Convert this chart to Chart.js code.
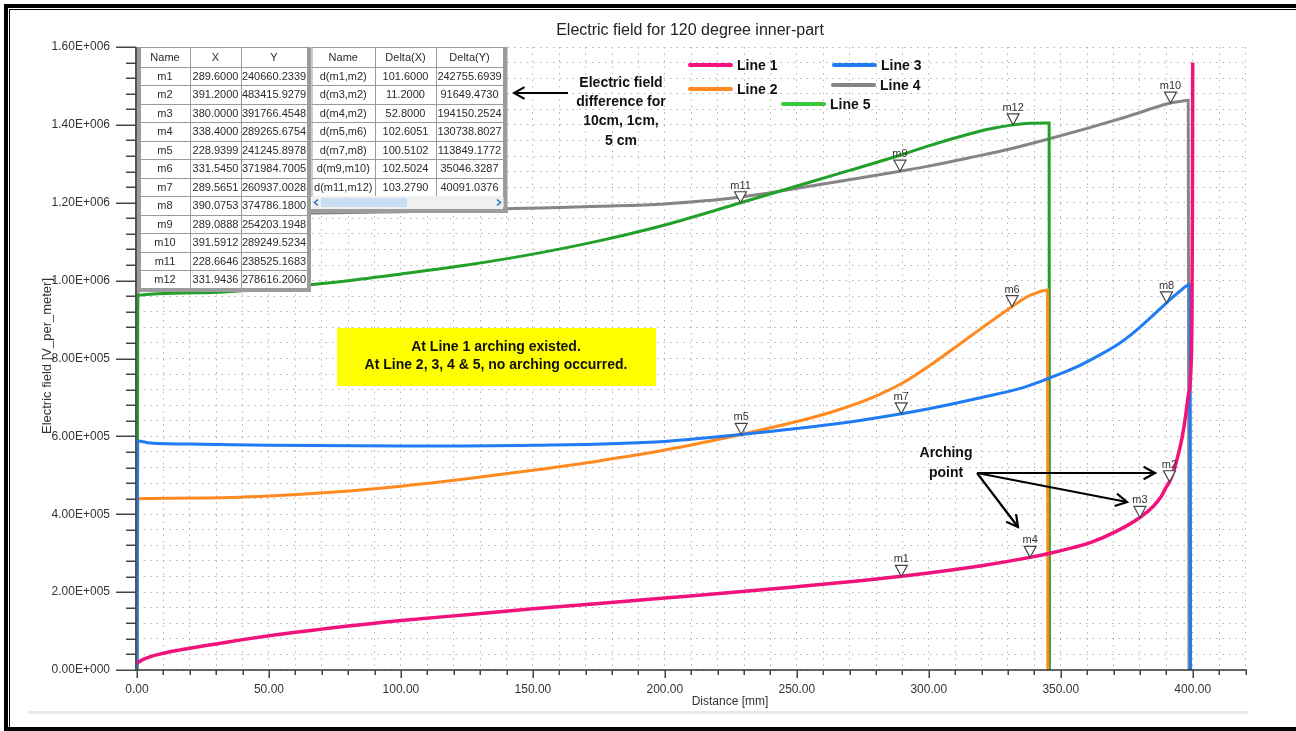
<!DOCTYPE html>
<html>
<head>
<meta charset="utf-8">
<script src="https://cdn.jsdelivr.net/npm/chart.js@4.4.1/dist/chart.umd.min.js"></script>
<style>
  html, body { margin: 0; padding: 0; background: #fff; }
  canvas { display: block; }
</style>
</head>
<body>
<canvas id="chart" width="1296" height="731"></canvas>
<script>
// ---- Series: distance [mm] and electric field [V/m] ----
const line1X = [0, 2, 5, 10, 15, 20, 30, 40, 50, 60, 70, 80, 90, 100, 125, 150, 175, 200, 225, 250, 275, 289.6, 300, 310, 320, 330, 338.4, 345.9, 355, 361.2, 371, 380, 385, 388, 390, 391.2, 392.5, 394, 395.8, 397.1, 398.2, 399.3, 399.7, 399.9, 400];
const line1Y = [17000, 26000, 34000, 43000, 50000, 56000, 67000, 78000, 88000, 97000, 105000, 113000, 120000, 127000, 142000, 157000, 171000, 185000, 199000, 214000, 230000, 240660, 249000, 258000, 268000, 279000, 289266, 300000, 315000, 327000, 356000, 391766, 420000, 445000, 470000, 483416, 505000, 540000, 591000, 643000, 700000, 771000, 900000, 1200000, 1560000];

const line2X = [0, 0.3, 25, 50, 75, 100, 125, 150, 175, 200, 228.9, 250, 262, 275, 282, 289.6, 300, 311.9, 320, 331.5, 337.1, 341, 343.3, 345.0, 345.1];
const line2Y = [0, 440000, 442000, 447000, 457000, 472000, 491000, 513000, 537000, 565000, 605000, 638000, 660000, 690000, 710000, 735000, 780000, 838000, 878000, 933000, 958000, 969000, 974000, 976000, 0];

const line3X = [0, 0.3, 5, 25, 50, 100, 150, 200, 228.9, 250, 270, 289.6, 300, 320, 335, 345, 355, 365, 372, 377.5, 384, 390.1, 395, 399.0, 399.2];
const line3Y = [0, 588000, 583000, 580000, 577000, 575000, 577000, 587000, 605000, 620000, 637000, 658000, 671000, 700000, 724000, 748000, 775000, 810000, 838000, 866000, 905000, 943000, 972000, 990000, 0];

const line4X = [0, 0.3, 25, 50, 75, 100, 125, 143, 160, 175.6, 200, 215, 228.7, 245.6, 260, 275, 289.1, 300, 315, 331.9, 345, 360, 375, 391.6, 396, 398.3, 398.6];
const line4Y = [0, 1170000, 1171000, 1172000, 1174000, 1177000, 1181000, 1185000, 1188000, 1191000, 1197000, 1205000, 1215000, 1232000, 1248000, 1265000, 1281000, 1294000, 1315000, 1340000, 1363000, 1391000, 1421000, 1456000, 1461000, 1463000, 0];

const line5X = [0, 0.3, 25, 50, 75, 100, 125, 150, 175, 200, 228.7, 245.6, 270, 289.1, 300, 311.9, 322, 331.9, 338, 344.5, 345.6, 345.7];
const line5Y = [0, 962000, 969000, 980000, 996000, 1017000, 1040000, 1068000, 1102000, 1143000, 1200000, 1234000, 1283000, 1322000, 1346000, 1370000, 1388000, 1400000, 1404000, 1405000, 1405000, 0];

const seriesNames = ['Line 1', 'Line 2', 'Line 3', 'Line 4', 'Line 5'];

// ---- Markers on the curves ----
const markerNames = ['m1', 'm2', 'm3', 'm4', 'm5', 'm6', 'm7', 'm8', 'm9', 'm10', 'm11', 'm12'];
const markerX = [289.6, 391.2, 380.0, 338.4, 228.9399, 331.545, 289.5651, 390.0753, 289.0888, 391.5912, 228.6646, 331.9436];
const markerY = [240660, 483416, 391766, 289266, 605000, 933000, 658000, 943000, 1281000, 1456000, 1200000, 1400000];

// ---- Marker readout tables ----
const tableXText = ['289.6000', '391.2000', '380.0000', '338.4000', '228.9399', '331.5450', '289.5651', '390.0753', '289.0888', '391.5912', '228.6646', '331.9436'];
const tableYText = ['240660.2339', '483415.9279', '391766.4548', '289265.6754', '241245.8978', '371984.7005', '260937.0028', '374786.1800', '254203.1948', '289249.5234', '238525.1683', '278616.2060'];
const deltaNames = ['d(m1,m2)', 'd(m3,m2)', 'd(m4,m2)', 'd(m5,m6)', 'd(m7,m8)', 'd(m9,m10)', 'd(m11,m12)'];
const deltaXText = ['101.6000', '11.2000', '52.8000', '102.6051', '100.5102', '102.5024', '103.2790'];
const deltaYText = ['242755.6939', '91649.4730', '194150.2524', '130738.8027', '113849.1772', '35046.3287', '40091.0376'];

// ---- Axis ticks ----
const xTickValues = []; for (let v = 0; v <= 420; v += 10) xTickValues.push(v);
const yTickValues = []; for (let v = 0; v <= 1600000; v += 40000) yTickValues.push(v);

const FONT = '"Liberation Sans", Arial, sans-serif';
const colors = {
  line1: '#f2127c', line2: '#ff8a1f', line3: '#1f7cf2', line4: '#858585', line5: '#22a02a',
  legend5: '#3cc83c'
};

function sci(v) {
  if (v === 0) return '0.00E+000';
  const e = Math.floor(Math.log10(v) + 1e-9);
  const m = v / Math.pow(10, e);
  return m.toFixed(2) + 'E+' + String(e).padStart(3, '0');
}

function pts(xs, ys) { return xs.map((x, i) => ({ x: x, y: ys[i] })); }

function arrow(ctx, x1, y1, x2, y2, head) {
  ctx.beginPath(); ctx.moveTo(x1, y1); ctx.lineTo(x2, y2); ctx.stroke();
  const a = Math.atan2(y2 - y1, x2 - x1);
  ctx.beginPath();
  ctx.moveTo(x2 - head * Math.cos(a - 0.5), y2 - head * Math.sin(a - 0.5));
  ctx.lineTo(x2, y2);
  ctx.lineTo(x2 - head * Math.cos(a + 0.5), y2 - head * Math.sin(a + 0.5));
  ctx.stroke();
}

function drawTable(ctx, x0, y0, colW, headH, rowH, header, cols) {
  const nRows = cols[0].length;
  const w = colW.reduce((a, b) => a + b, 0);
  const h = headH + nRows * rowH;
  ctx.fillStyle = '#fff';
  ctx.fillRect(x0, y0, w, h);
  ctx.strokeStyle = '#9a9a9a';
  ctx.lineWidth = 1;
  ctx.strokeRect(x0 + 0.5, y0 + 0.5, w, h);
  let cx = x0;
  for (let c = 0; c < colW.length - 1; c++) {
    cx += colW[c];
    ctx.beginPath(); ctx.moveTo(Math.round(cx) + 0.5, y0); ctx.lineTo(Math.round(cx) + 0.5, y0 + h); ctx.stroke();
  }
  for (let r = 0; r < nRows; r++) {
    const yy = Math.round(y0 + headH + r * rowH) + 0.5;
    ctx.beginPath(); ctx.moveTo(x0, yy); ctx.lineTo(x0 + w, yy); ctx.stroke();
  }
  ctx.fillStyle = '#2a2a2a';
  ctx.font = '11px ' + FONT;
  ctx.textAlign = 'center';
  ctx.textBaseline = 'middle';
  cx = x0;
  for (let c = 0; c < colW.length; c++) {
    const mid = cx + colW[c] / 2;
    ctx.fillText(header[c], mid, y0 + headH / 2 + 1);
    for (let r = 0; r < nRows; r++) {
      ctx.fillText(cols[c][r], mid, y0 + headH + r * rowH + rowH / 2 + 1);
    }
    cx += colW[c];
  }
  return { w: w, h: h };
}

const decorations = {
  id: 'decorations',
  beforeDraw(chart) {
    const ctx = chart.ctx;
    ctx.save();
    ctx.fillStyle = '#fff';
    ctx.fillRect(0, 0, chart.width, chart.height);
    // page frame
    ctx.fillStyle = '#000';
    ctx.fillRect(4, 4, 4, 727);
    ctx.fillRect(4, 4, 1292, 4);
    ctx.fillRect(4, 727, 1292, 4);
    ctx.fillRect(9, 9, 1, 718);
    ctx.fillRect(9, 9, 1287, 1);
    // soft lower edge of the plot panel
    ctx.fillStyle = '#e9e9e9';
    ctx.fillRect(28, 711, 1220, 3);
    ctx.restore();
  },
  afterDatasetsDraw(chart) {
    const ctx = chart.ctx;
    const xs = chart.scales.x, ys = chart.scales.y;
    ctx.save();

    // markers
    for (let i = 0; i < markerNames.length; i++) {
      const px = xs.getPixelForValue(markerX[i]);
      const py = ys.getPixelForValue(markerY[i]);
      ctx.beginPath();
      ctx.moveTo(px, py);
      ctx.lineTo(px - 6, py - 11);
      ctx.lineTo(px + 6, py - 11);
      ctx.closePath();
      ctx.fillStyle = '#fff';
      ctx.fill();
      ctx.strokeStyle = '#444';
      ctx.lineWidth = 1.2;
      ctx.stroke();
      ctx.fillStyle = '#333';
      ctx.font = '11px ' + FONT;
      ctx.textAlign = 'center';
      ctx.textBaseline = 'alphabetic';
      ctx.fillText(markerNames[i], px, py - 14);
    }

    // marker tables
    drawTable(ctx, 140, 47, [50, 51, 66], 19.5, 18.5,
      ['Name', 'X', 'Y'], [markerNames, tableXText, tableYText]);
    ctx.fillStyle = '#9c9c9c';
    ctx.fillRect(136, 47, 4, 246);
    ctx.fillRect(136, 288, 175, 4);
    ctx.fillRect(307, 47, 4, 245);

    const t2 = drawTable(ctx, 311.5, 47, [63.5, 61, 67], 19.5, 18.5,
      ['Name', 'Delta(X)', 'Delta(Y)'], [deltaNames, deltaXText, deltaYText]);
    // scroll bar row
    const sy = 47 + t2.h;
    ctx.fillStyle = '#f0f0f0';
    ctx.fillRect(312, sy, 191, 13);
    ctx.fillStyle = '#c9ddf3';
    ctx.fillRect(321, sy + 2, 86, 9);
    ctx.strokeStyle = '#2c6fd6';
    ctx.lineWidth = 1.6;
    ctx.beginPath(); ctx.moveTo(318, sy + 3.5); ctx.lineTo(314.5, sy + 6.5); ctx.lineTo(318, sy + 9.5); ctx.stroke();
    ctx.beginPath(); ctx.moveTo(497, sy + 3.5); ctx.lineTo(500.5, sy + 6.5); ctx.lineTo(497, sy + 9.5); ctx.stroke();
    ctx.fillStyle = '#9c9c9c';
    ctx.fillRect(311, sy + 13, 197, 4);
    ctx.fillRect(503.5, 47, 4, sy + 17 - 47);

    // legend
    const legend = [
      { name: seriesNames[0], color: colors.line1, x: 690, y: 65 },
      { name: seriesNames[2], color: colors.line3, x: 834, y: 65 },
      { name: seriesNames[1], color: colors.line2, x: 690, y: 89 },
      { name: seriesNames[3], color: colors.line4, x: 833, y: 85 },
      { name: seriesNames[4], color: colors.legend5, x: 783, y: 104 }
    ];
    ctx.lineCap = 'round';
    ctx.font = 'bold 14px ' + FONT;
    ctx.textAlign = 'left';
    ctx.textBaseline = 'middle';
    legend.forEach(function (l) {
      ctx.strokeStyle = l.color;
      ctx.lineWidth = 4;
      ctx.beginPath(); ctx.moveTo(l.x, l.y); ctx.lineTo(l.x + 41, l.y); ctx.stroke();
      ctx.fillStyle = '#111';
      ctx.fillText(l.name, l.x + 47, l.y + 1);
    });
    ctx.lineCap = 'butt';

    // note about marker differences
    ctx.fillStyle = '#111';
    ctx.textAlign = 'center';
    ctx.font = 'bold 14px ' + FONT;
    ['Electric field', 'difference for', '10cm, 1cm,', '5 cm'].forEach(function (t, i) {
      ctx.fillText(t, 621, 83 + i * 19.3);
    });
    ctx.strokeStyle = '#000';
    ctx.lineWidth = 2;
    arrow(ctx, 568, 93, 514, 93, 12);

    // arching statement
    ctx.fillStyle = '#ffff00';
    ctx.fillRect(337, 328, 319, 58);
    ctx.fillStyle = '#111';
    ctx.fillText('At Line 1 arching existed.', 496, 347);
    ctx.fillText('At Line 2, 3, 4 & 5, no arching occurred.', 496, 365);

    // arching point callout
    ctx.fillText('Arching', 946, 453);
    ctx.fillText('point', 946, 473);
    ctx.lineWidth = 2.2;
    arrow(ctx, 977, 473, 1155, 473, 13);
    arrow(ctx, 977, 473, 1127, 502, 13);
    arrow(ctx, 977, 473, 1018, 527, 13);

    ctx.restore();
  },
  afterDraw(chart) {
    const ctx = chart.ctx;
    const a = chart.chartArea;
    const xs = chart.scales.x, ys = chart.scales.y;
    ctx.save();
    // axis lines
    ctx.strokeStyle = '#555';
    ctx.lineWidth = 2;
    ctx.beginPath(); ctx.moveTo(a.left - 1, a.top); ctx.lineTo(a.left - 1, a.bottom); ctx.stroke();
    ctx.strokeStyle = '#333';
    ctx.lineWidth = 1.5;
    ctx.beginPath(); ctx.moveTo(a.left - 2, a.bottom); ctx.lineTo(a.right + 1.5, a.bottom); ctx.stroke();
    // tick marks
    ctx.lineWidth = 1.5;
    ctx.strokeStyle = '#444';
    yTickValues.forEach(function (v) {
      const y = Math.round(ys.getPixelForValue(v)) + 0.25;
      const major = Math.round(v / 40000) % 5 === 0;
      ctx.beginPath(); ctx.moveTo(a.left - (major ? 21 : 11), y); ctx.lineTo(a.left - 1, y); ctx.stroke();
    });
    xTickValues.forEach(function (v) {
      const x = Math.round(xs.getPixelForValue(v)) + 0.25;
      const major = Math.round(v) % 50 === 0;
      ctx.beginPath(); ctx.moveTo(x, a.bottom); ctx.lineTo(x, a.bottom + (major ? 8 : 5)); ctx.stroke();
    });
    // titles
    ctx.fillStyle = '#222';
    ctx.textAlign = 'center';
    ctx.textBaseline = 'middle';
    ctx.font = '16px ' + FONT;
    ctx.fillText('Electric field for 120 degree inner-part', 690, 31);
    ctx.fillStyle = '#333';
    ctx.font = '12px ' + FONT;
    ctx.fillText('Distance [mm]', 730, 702);
    ctx.font = '13px ' + FONT;
    ctx.translate(47, 356);
    ctx.rotate(-Math.PI / 2);
    ctx.fillText('Electric field [V_per_meter]', 0, 0);
    ctx.restore();
  }
};

const common = { pointRadius: 0, borderWidth: 3, fill: false, cubicInterpolationMode: 'monotone' };

new Chart(document.getElementById('chart'), {
  type: 'line',
  data: {
    datasets: [
      Object.assign({ label: seriesNames[0], data: pts(line1X, line1Y), borderColor: colors.line1 }, common, { borderWidth: 3.5 }),
      Object.assign({ label: seriesNames[2], data: pts(line3X, line3Y), borderColor: colors.line3 }, common),
      Object.assign({ label: seriesNames[1], data: pts(line2X, line2Y), borderColor: colors.line2 }, common),
      Object.assign({ label: seriesNames[4], data: pts(line5X, line5Y), borderColor: colors.line5 }, common),
      Object.assign({ label: seriesNames[3], data: pts(line4X, line4Y), borderColor: colors.line4 }, common)
    ]
  },
  options: {
    responsive: false,
    devicePixelRatio: 1,
    animation: false,
    events: [],
    layout: { padding: { top: 47, right: 50.5, bottom: 16, left: 0 } },
    plugins: { legend: { display: false }, tooltip: { enabled: false }, title: { display: false } },
    scales: {
      x: {
        type: 'linear', min: 0, max: 420,
        afterFit: function (s) { s.height = 45; },
        afterBuildTicks: function (s) { s.ticks = xTickValues.map(function (v) { return { value: v }; }); },
        ticks: {
          autoSkip: false, maxRotation: 0, minRotation: 0, padding: 12, color: '#333',
          font: { family: FONT, size: 12 },
          callback: function (v) { return (Math.round(v) % 50 === 0 && v <= 400) ? Number(v).toFixed(2) : ''; }
        },
        grid: { color: '#b4b4b4', lineWidth: 1, drawTicks: false },
        border: { display: false, dash: [1.5, 5] }
      },
      y: {
        type: 'linear', min: 0, max: 1600000,
        afterFit: function (s) { s.width = 137; },
        afterBuildTicks: function (s) { s.ticks = yTickValues.map(function (v) { return { value: v }; }); },
        ticks: {
          autoSkip: false, padding: 27, color: '#333',
          font: { family: FONT, size: 12 },
          callback: function (v) { return Math.round(v / 40000) % 5 === 0 ? sci(v) : ''; }
        },
        grid: { color: '#b4b4b4', lineWidth: 1, drawTicks: false },
        border: { display: false, dash: [1.5, 5] }
      }
    }
  },
  plugins: [decorations]
});
</script>
</body>
</html>
